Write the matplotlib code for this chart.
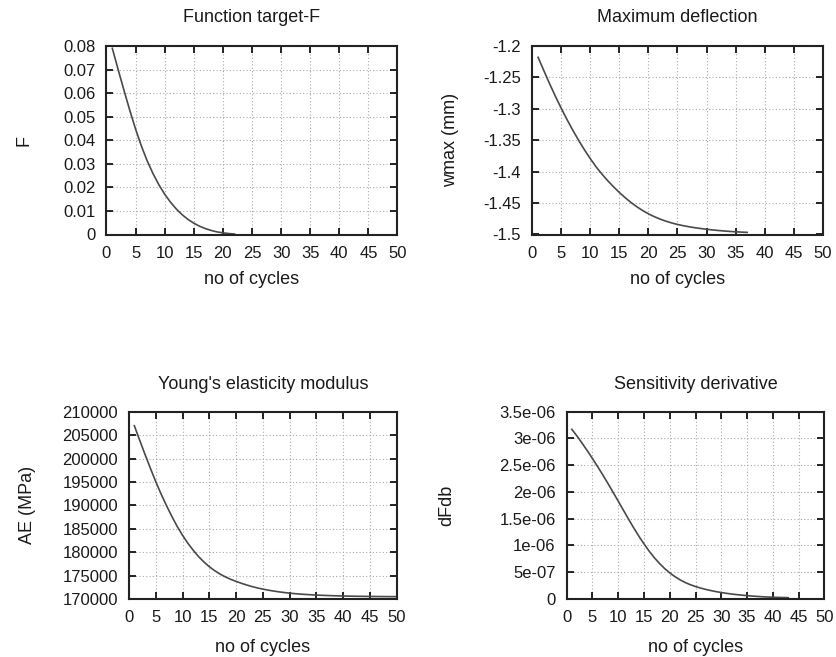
import matplotlib
matplotlib.use("Agg")
import matplotlib.pyplot as plt
from matplotlib.ticker import FixedLocator, FixedFormatter

plt.rcParams['font.family'] = ['Liberation Sans', 'DejaVu Sans']

# ---------------- data ----------------
cycles_F = list(range(1, 23))
F_values = [0.0790, 0.0700, 0.0612, 0.0527, 0.0447, 0.0375, 0.0312, 0.0258,
            0.0211, 0.0171, 0.0137, 0.0108, 0.0084, 0.0064, 0.0048, 0.0035,
            0.0025, 0.0017, 0.0011, 0.0007, 0.0004, 0.0002]

cycles_w = list(range(1, 38))
wmax_values = [-1.2180, -1.2395, -1.2605, -1.2805, -1.2995, -1.3175, -1.3345,
               -1.3505, -1.3655, -1.3795, -1.3925, -1.4040, -1.4145, -1.4242,
               -1.4332, -1.4415, -1.4491, -1.4559, -1.4619, -1.4671, -1.4716,
               -1.4755, -1.4788, -1.4816, -1.4840, -1.4860, -1.4877, -1.4892,
               -1.4905, -1.4917, -1.4927, -1.4936, -1.4944, -1.4951, -1.4957,
               -1.4962, -1.4966]

cycles_E = list(range(1, 51))
AE_values = [207000, 203900, 200850, 197900, 195050, 192400, 189950, 187650,
             185500, 183600, 181900, 180400, 179050, 177900, 176900, 176050,
             175330, 174720, 174200, 173760, 173350, 172980, 172650, 172360,
             172110, 171890, 171700, 171530, 171380, 171250, 171140, 171050,
             170970, 170900, 170840, 170790, 170745, 170705, 170670, 170640,
             170615, 170595, 170575, 170560, 170545, 170535, 170525, 170515,
             170505, 170500]

cycles_d = list(range(1, 44))
dFdb_values = [3.17e-6, 3.045e-6, 2.91e-6, 2.77e-6, 2.625e-6, 2.475e-6, 2.32e-6,
               2.16e-6, 1.995e-6, 1.828e-6, 1.66e-6, 1.493e-6, 1.33e-6, 1.175e-6,
               1.03e-6, 0.895e-6, 0.773e-6, 0.665e-6, 0.57e-6, 0.488e-6,
               0.418e-6, 0.358e-6, 0.308e-6, 0.267e-6, 0.233e-6, 0.204e-6,
               0.179e-6, 0.157e-6, 0.138e-6, 0.121e-6, 0.106e-6, 0.093e-6,
               0.082e-6, 0.072e-6, 0.063e-6, 0.055e-6, 0.048e-6, 0.042e-6,
               0.037e-6, 0.033e-6, 0.030e-6, 0.027e-6, 0.025e-6]

x_ticks = [0, 5, 10, 15, 20, 25, 30, 35, 40, 45, 50]
x_tick_labels = ['0', '5', '10', '15', '20', '25', '30', '35', '40', '45', '50']

F_ticks = [0, 0.01, 0.02, 0.03, 0.04, 0.05, 0.06, 0.07, 0.08]
F_tick_labels = ['0', '0.01', '0.02', '0.03', '0.04', '0.05', '0.06', '0.07', '0.08']

w_ticks = [-1.5, -1.45, -1.4, -1.35, -1.3, -1.25, -1.2]
w_tick_labels = ['-1.5', '-1.45', '-1.4', '-1.35', '-1.3', '-1.25', '-1.2']

E_ticks = [170000, 175000, 180000, 185000, 190000, 195000, 200000, 205000, 210000]
E_tick_labels = ['170000', '175000', '180000', '185000', '190000', '195000',
                 '200000', '205000', '210000']

d_ticks = [0, 5e-7, 1e-6, 1.5e-6, 2e-6, 2.5e-6, 3e-6, 3.5e-6]
d_tick_labels = ['0', '5e-07', '1e-06', '1.5e-06', '2e-06', '2.5e-06', '3e-06', '3.5e-06']

titles = ['Function target-F', 'Maximum deflection',
          "Young's elasticity modulus", 'Sensitivity derivative']
ylabels = ['F', 'wmax (mm)', 'AE (MPa)', 'dFdb']
xlabel = 'no of cycles'

# ---------------- figure ----------------
W, H = 837, 657
fig = plt.figure(figsize=(W / 100, H / 100), dpi=100)

# axes boxes in pixels: left, right, top, bottom
boxes = [(106.5, 397.5, 46, 234.5),
         (532.3, 822.7, 46, 234.5),
         (129, 396.7, 411.7, 599),
         (566.7, 824.3, 411.7, 599)]
ylabel_offsets = [83, 82, 102, 120]   # px from left spine to label centre
xlabel_offsets = [45.5, 45.5, 48, 48]
title_offsets = [29, 29, 27, 27]

series = [(cycles_F, F_values, F_ticks, F_tick_labels, (0, 0.08)),
          (cycles_w, wmax_values, w_ticks, w_tick_labels, (-1.5, -1.2)),
          (cycles_E, AE_values, E_ticks, E_tick_labels, (170000, 210000)),
          (cycles_d, dFdb_values, d_ticks, d_tick_labels, (0, 3.5e-6))]

text_color = '#1a1a1a'
fs = 12
fs_lab = 13

for i, (box, ser) in enumerate(zip(boxes, series)):
    l, r, t, b = box
    ax = fig.add_axes([l / W, 1 - b / H, (r - l) / W, (b - t) / H])
    xs, ys, yt, ytl, ylim = ser
    ax.plot(xs, ys, color='#4a4a4a', lw=1.2)
    ax.set_xlim(0, 50)
    ax.set_ylim(*ylim)
    ax.xaxis.set_major_locator(FixedLocator(x_ticks))
    ax.xaxis.set_major_formatter(FixedFormatter(x_tick_labels))
    ax.yaxis.set_major_locator(FixedLocator(yt))
    ax.yaxis.set_major_formatter(FixedFormatter(ytl))
    ax.tick_params(direction='in', length=5, width=1.2, top=True, right=True,
                   labelsize=fs, labelcolor=text_color, pad=8)
    ax.grid(True, color='#aaaaaa', lw=0.8, linestyle=(0, (1, 2)))
    for s in ax.spines.values():
        s.set_linewidth(1.5)
        s.set_color('#222222')
    wpx, hpx = r - l, b - t
    ax.set_title(titles[i], fontsize=fs_lab, color=text_color,
                 y=1 + title_offsets[i] / hpx, va='center', pad=0)
    ax.set_ylabel(ylabels[i], fontsize=fs_lab, color=text_color, va='center')
    ax.yaxis.set_label_coords(-ylabel_offsets[i] / wpx, 0.5)
    ax.set_xlabel(xlabel, fontsize=fs_lab, color=text_color, va='center')
    ax.xaxis.set_label_coords(0.5, -xlabel_offsets[i] / hpx)

fig.savefig('out.png', dpi=100, facecolor='white')
